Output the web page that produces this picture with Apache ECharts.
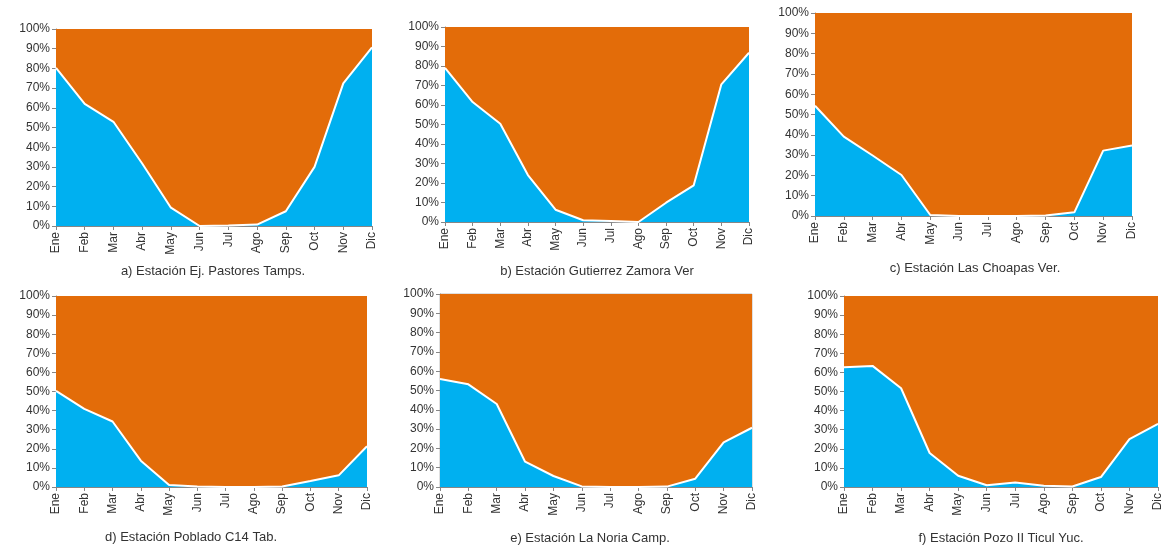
<!DOCTYPE html>
<html>
<head>
<meta charset="utf-8">
<script src="https://cdn.jsdelivr.net/npm/echarts@6/dist/echarts.min.js"></script>
<style>
html,body{margin:0;padding:0;background:#fff;}
#chart{width:1167px;height:550px;}
</style>
</head>
<body>
<div id="chart"></div>
<script>
const months = ['Ene','Feb','Mar','Abr','May','Jun','Jul','Ago','Sep','Oct','Nov','Dic'];
const yTicks = [0,10,20,30,40,50,60,70,80,90,100];

const titleA = 'a) Estación Ej. Pastores Tamps.';
const titleB = 'b) Estación Gutierrez Zamora Ver';
const titleC = 'c) Estación Las Choapas Ver.';
const titleD = 'd) Estación Poblado C14 Tab.';
const titleE = 'e) Estación La Noria Camp.';
const titleF = 'f) Estación Pozo II Ticul Yuc.';

// blue share (%) per month
const blueA = [80.3, 62.0, 52.9, 31.7, 9.3, 0.0, 0.3, 0.7, 7.5, 30.0, 72.4, 90.7];
const blueB = [79.0, 61.5, 50.4, 24.1, 6.3, 0.9, 0.5, 0.0, 9.9, 18.8, 70.6, 86.8];
const blueC = [54.3, 39.1, 29.8, 20.2, 0.5, 0.0, 0.0, 0.0, 0.3, 1.8, 32.2, 34.7];
const blueD = [50.3, 40.9, 34.3, 13.8, 1.0, 0.3, 0.0, 0.0, 0.3, 3.1, 6.1, 21.3];
const blueE = [56.0, 53.2, 43.0, 13.1, 5.7, 0.3, 0.0, 0.0, 0.2, 4.3, 23.1, 30.7];
const blueF = [62.7, 63.4, 51.7, 17.8, 5.9, 0.9, 2.3, 0.7, 0.3, 5.2, 25.1, 33.1];

const panels = [
  {title: titleA, blue: blueA, grid: {left: 56, top: 29, width: 316, height: 197}, tx: 213, ty: 271},
  {title: titleB, blue: blueB, grid: {left: 445, top: 27, width: 304, height: 195}, tx: 597, ty: 271},
  {title: titleC, blue: blueC, grid: {left: 815, top: 13, width: 317, height: 203}, tx: 975, ty: 268},
  {title: titleD, blue: blueD, grid: {left: 56, top: 296, width: 311, height: 191}, tx: 191, ty: 537},
  {title: titleE, blue: blueE, grid: {left: 440, top: 294, width: 312, height: 193, border: true}, tx: 590, ty: 538},
  {title: titleF, blue: blueF, grid: {left: 844, top: 296, width: 314, height: 191}, tx: 1001, ty: 538}
];

const FONT = 'Liberation Sans';
const BLUE = '#00B0F0';
const ORANGE = '#E36C09';
const AXIS = '#868686';
const TEXT = '#333333';

const grids = [], xAxes = [], yAxes = [], series = [], graphics = [];
panels.forEach((p, i) => {
  const g = {left: p.grid.left, top: p.grid.top, width: p.grid.width, height: p.grid.height, containLabel: false};
  if (p.grid.border) { g.show = true; g.borderColor = '#bfbfbf'; g.borderWidth = 1; g.backgroundColor = 'transparent'; }
  grids.push(g);
  xAxes.push({
    type: 'category', gridIndex: i, data: months, boundaryGap: false,
    axisLine: {show: true, lineStyle: {color: AXIS, width: 1}},
    axisTick: {show: true, length: 4, lineStyle: {color: AXIS}},
    axisLabel: {rotate: 90, color: TEXT, fontFamily: FONT, fontSize: 12, margin: 6},
    splitLine: {show: false}
  });
  yAxes.push({
    type: 'value', gridIndex: i, min: yTicks[0], max: yTicks[yTicks.length - 1], interval: 10,
    axisLine: {show: true, lineStyle: {color: AXIS, width: 1}},
    axisTick: {show: true, length: 4, lineStyle: {color: AXIS}},
    axisLabel: {formatter: '{value}%', color: TEXT, fontFamily: FONT, fontSize: 12, margin: 6},
    splitLine: {show: false}
  });
  series.push({
    type: 'line', xAxisIndex: i, yAxisIndex: i, stack: 's' + i, data: p.blue,
    symbol: 'none', lineStyle: {color: '#ffffff', width: 2}, areaStyle: {color: BLUE, opacity: 1},
    z: 3, animation: false
  });
  series.push({
    type: 'line', xAxisIndex: i, yAxisIndex: i, stack: 's' + i,
    data: p.blue.map(v => +(100 - v).toFixed(1)),
    symbol: 'none', lineStyle: {width: 0, color: ORANGE}, areaStyle: {color: ORANGE, opacity: 1},
    z: 2, animation: false
  });
  graphics.push({
    type: 'text', x: p.tx, y: p.ty,
    style: {text: p.title, fill: TEXT, font: '13px "' + FONT + '"', textAlign: 'center', textVerticalAlign: 'middle'}
  });
});

const chart = echarts.init(document.getElementById('chart'), null, {renderer: 'canvas'});
chart.setOption({
  animation: false,
  grid: grids, xAxis: xAxes, yAxis: yAxes, series: series,
  graphic: graphics
});
</script>
</body>
</html>
